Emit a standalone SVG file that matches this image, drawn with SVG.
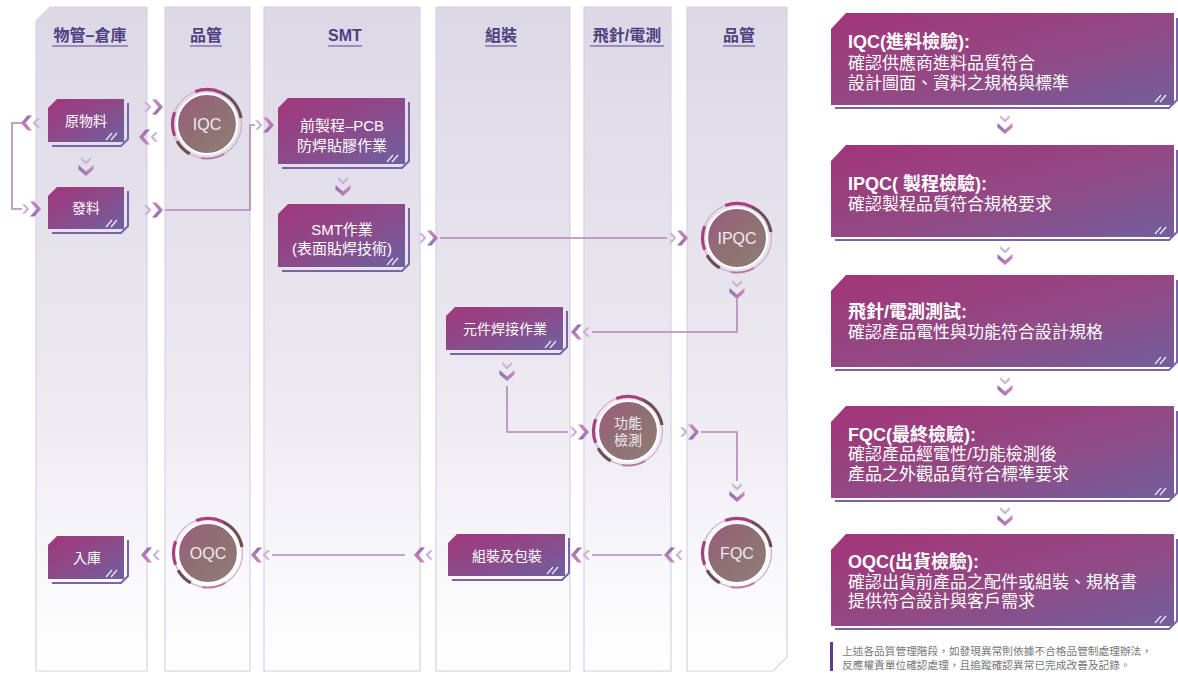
<svg xmlns="http://www.w3.org/2000/svg" xmlns:xlink="http://www.w3.org/1999/xlink" width="1178" height="673" viewBox="0 0 1178 673">
<defs>
<linearGradient id="gLane" gradientUnits="userSpaceOnUse" x1="0" y1="7" x2="0" y2="671">
<stop offset="0" stop-color="#dcd8e6"/><stop offset="0.55" stop-color="#ebe8f0"/><stop offset="1" stop-color="#ffffff"/>
</linearGradient>
<linearGradient id="gBox" x1="0" y1="0" x2="1" y2="1">
<stop offset="0" stop-color="#a2377c"/><stop offset="0.5" stop-color="#8c4a8a"/><stop offset="1" stop-color="#6e61a0"/>
</linearGradient>
<linearGradient id="gPanel" x1="0" y1="0" x2="1" y2="1">
<stop offset="0" stop-color="#a2347a"/><stop offset="0.55" stop-color="#924a84"/><stop offset="1" stop-color="#725e9c"/>
</linearGradient>
<linearGradient id="gCirc" x1="0" y1="0" x2="1" y2="1">
<stop offset="0" stop-color="#9c5a80"/><stop offset="0.5" stop-color="#8f7073"/><stop offset="1" stop-color="#8e7e77"/>
</linearGradient>
<linearGradient id="gChev" x1="0" y1="0" x2="0" y2="1">
<stop offset="0" stop-color="#d088b8"/><stop offset="1" stop-color="#8f6fb2"/>
</linearGradient>
<g id="chev">
<polygon points="-9,-4.8 -6,-4.8 -1.5,0 -6,4.8 -9,4.8 -4.5,0" fill="#cbb3d6"/>
<polygon points="-1,-7.5 3.5,-7.5 10,0 3.5,7.5 -1,7.5 5.5,0" fill="url(#gChev)"/>
</g>
<g id="ring">
<circle r="34.5" fill="none" stroke="#cfa9c8" stroke-width="1.2"/>
<circle r="30" fill="url(#gCirc)" stroke="#ffffff" stroke-width="2.2"/>
<g fill="none" stroke-width="3.2">
<path d="M -11.8,-32.4 A 34.5 34.5 0 0 1 14.6,-31.3" stroke="#a8407f"/>
<path d="M 14.6,-31.3 A 34.5 34.5 0 0 1 34,-6" stroke="#6f4b55"/>
<path d="M -32.4,11.8 A 34.5 34.5 0 0 1 -32.4,-11.8" stroke="#a8407f"/>
<path d="M -17.25,29.9 A 34.5 34.5 0 0 1 -29.9,17.25" stroke="#6f4b55"/>
<path d="M 17.25,29.9 A 34.5 34.5 0 0 1 -6,34" stroke="#b97aa8" stroke-width="2"/>
</g>
</g>
<path id="hatch" d="M0,0 l6,-7 M5,0 l6,-7" fill="none" stroke="#efe3f0" stroke-width="1.3"/>
</defs>
<style>
.lane{fill:url(#gLane);stroke:#d9d3e4;stroke-width:1.2}
.hdr{font-family:"Liberation Sans","Noto Sans CJK TC",sans-serif;font-size:16px;font-weight:bold;fill:#4e3f7f;text-anchor:middle}
.ul{stroke:#8b6fb0;stroke-width:1.5}
.box{fill:url(#gBox)}
.pbox{fill:url(#gPanel)}
.edge{fill:none;stroke:#7c62a8;stroke-width:2}
.bt{font-family:"Liberation Sans","Noto Sans CJK TC",sans-serif;font-size:14px;fill:#ffffff;text-anchor:middle}
.bt2{font-family:"Liberation Sans","Noto Sans CJK TC",sans-serif;font-size:15px;fill:#ffffff;text-anchor:middle}
.ct{font-family:"Liberation Sans","Noto Sans CJK TC",sans-serif;font-size:16px;fill:#f3eaef;text-anchor:middle}
.ct2{font-family:"Liberation Sans","Noto Sans CJK TC",sans-serif;font-size:14px;fill:#f3eaef;text-anchor:middle}
.pt{font-family:"Liberation Sans","Noto Sans CJK TC",sans-serif;font-size:18px;font-weight:bold;fill:#ffffff}
.pb{font-family:"Liberation Sans","Noto Sans CJK TC",sans-serif;font-size:17px;fill:#ffffff}
.note{font-family:"Liberation Sans","Noto Sans CJK TC",sans-serif;font-size:10.7px;fill:#777777}
.conn{fill:none;stroke:#b585b6;stroke-width:1.6}
</style>
<rect width="1178" height="673" fill="#ffffff"/>

<g id="lanes">
<g id="lane-warehouse"><path class="lane" d="M36,21 L50,7 H147 V671 H36 Z"/><text class="hdr" x="90" y="41">物管–倉庫</text><line class="ul" x1="52" y1="46" x2="128" y2="46"/></g>
<g id="lane-qc1"><rect class="lane" x="165" y="7" width="85" height="664"/><text class="hdr" x="206" y="41">品管</text><line class="ul" x1="190" y1="46" x2="222" y2="46"/></g>
<g id="lane-smt"><rect class="lane" x="264" y="7" width="156" height="664"/><text class="hdr" x="345" y="41">SMT</text><line class="ul" x1="328" y1="46" x2="362" y2="46"/></g>
<g id="lane-assembly"><rect class="lane" x="436" y="7" width="134" height="664"/><text class="hdr" x="501" y="41">組裝</text><line class="ul" x1="485" y1="46" x2="517" y2="46"/></g>
<g id="lane-test"><rect class="lane" x="584" y="7" width="87" height="664"/><text class="hdr" x="627" y="41">飛針/電測</text><line class="ul" x1="590" y1="46" x2="664" y2="46"/></g>
<g id="lane-qc2"><path class="lane" d="M687,7 H787 V657 L773,671 H687 Z"/><text class="hdr" x="739" y="41">品管</text><line class="ul" x1="723" y1="46" x2="755" y2="46"/></g>
</g>

<g id="connectors">
<path class="conn" d="M22,123 H12 V209 H22"/>
<path class="conn" d="M165,210 H250 V125 H255"/>
<path class="conn" d="M440,238 H667"/>
<path class="conn" d="M737,299 V332 H592"/>
<path class="conn" d="M507,386 V432 H568"/>
<path class="conn" d="M701,432 H737 V481"/>
<path class="conn" d="M662,555 H592"/>
<path class="conn" d="M405,555 H272"/>
<use href="#chev" transform="translate(31,123) rotate(180)"/>
<use href="#chev" transform="translate(31,209)"/>
<use href="#chev" transform="translate(153,107)"/>
<use href="#chev" transform="translate(149,137) rotate(180)"/>
<use href="#chev" transform="translate(153,210)"/>
<use href="#chev" transform="translate(264,125)"/>
<use href="#chev" transform="translate(86,166) rotate(90)"/>
<use href="#chev" transform="translate(343,186) rotate(90)"/>
<use href="#chev" transform="translate(428,238)"/>
<use href="#chev" transform="translate(678,238)"/>
<use href="#chev" transform="translate(737,289) rotate(90)"/>
<use href="#chev" transform="translate(581,332) rotate(180)"/>
<use href="#chev" transform="translate(507,371) rotate(90)"/>
<use href="#chev" transform="translate(579,432)"/>
<use href="#chev" transform="translate(689,432)"/>
<use href="#chev" transform="translate(737,492) rotate(90)"/>
<use href="#chev" transform="translate(674,555) rotate(180)"/>
<use href="#chev" transform="translate(581,555) rotate(180)"/>
<use href="#chev" transform="translate(424,555) rotate(180)"/>
<use href="#chev" transform="translate(261,555) rotate(180)"/>
<use href="#chev" transform="translate(151,555) rotate(180)"/>
<use href="#chev" transform="translate(1005,124) rotate(90)"/>
<use href="#chev" transform="translate(1005,255) rotate(90)"/>
<use href="#chev" transform="translate(1005,386) rotate(90)"/>
<use href="#chev" transform="translate(1005,516) rotate(90)"/>
</g>

<g id="n-raw">
<path class="box" d="M48,108 L57,99 H124 V142 H48 Z"/>
<path class="edge" d="M52,146 H121 L128,139 V103"/>
<use href="#hatch" x="106" y="140"/>
<text class="bt" x="86" y="126">原物料</text>
</g>
<g id="n-issue">
<path class="box" d="M48,196 L57,187 H124 V229 H48 Z"/>
<path class="edge" d="M52,233 H121 L128,226 V191"/>
<use href="#hatch" x="106" y="227"/>
<text class="bt" x="86" y="213">發料</text>
</g>
<g id="n-iqc">
<use href="#ring" transform="translate(207,124)"/>
<text class="ct" x="207" y="130">IQC</text>
</g>
<g id="n-pre">
<path class="box" d="M278,108 L288,98 H405 V164 H278 Z"/>
<path class="edge" d="M282,168 H402 L409,161 V102"/>
<use href="#hatch" x="387" y="162"/>
<text class="bt2" x="342" y="131">前製程–PCB</text>
<text class="bt2" x="342" y="151">防焊貼膠作業</text>
</g>
<g id="n-smt">
<path class="box" d="M278,214 L288,204 H405 V267 H278 Z"/>
<path class="edge" d="M282,271 H402 L409,264 V208"/>
<use href="#hatch" x="387" y="265"/>
<text class="bt2" x="342" y="235">SMT作業</text>
<text class="bt2" x="342" y="254">(表面貼焊技術)</text>
</g>
<g id="n-ipqc">
<use href="#ring" transform="translate(737,238)"/>
<text class="ct" x="737" y="244">IPQC</text>
</g>
<g id="n-solder">
<path class="box" d="M446,316 L455,307 H563 V350 H446 Z"/>
<path class="edge" d="M450,354 H560 L567,347 V311"/>
<use href="#hatch" x="545" y="348"/>
<text class="bt" x="505" y="334">元件焊接作業</text>
</g>
<g id="n-func">
<use href="#ring" transform="translate(628,431)"/>
<text class="ct2" x="628" y="428">功能</text>
<text class="ct2" x="628" y="445">檢測</text>
</g>
<g id="n-fqc">
<use href="#ring" transform="translate(737,553)"/>
<text class="ct" x="737" y="559">FQC</text>
</g>
<g id="n-pack">
<path class="box" d="M448,543 L457,534 H565 V576 H448 Z"/>
<path class="edge" d="M452,580 H562 L569,573 V538"/>
<use href="#hatch" x="547" y="574"/>
<text class="bt" x="507" y="561">組裝及包裝</text>
</g>
<g id="n-oqc">
<use href="#ring" transform="translate(208,553)"/>
<text class="ct" x="208" y="559">OQC</text>
</g>
<g id="n-store">
<path class="box" d="M48,545 L57,536 H124 V579 H48 Z"/>
<path class="edge" d="M52,583 H121 L128,576 V540"/>
<use href="#hatch" x="106" y="577"/>
<text class="bt" x="87" y="563">入庫</text>
</g>

<g id="p-iqc">
<path class="pbox" d="M831,29 L846,13 H1174 V105 H831 Z"/>
<path class="edge" d="M835,108 H1169 L1177,100 V18"/>
<use href="#hatch" x="1155" y="102"/>
<text class="pt" x="848" y="48">IQC(進料檢驗):</text>
<text class="pb" x="848" y="69">確認供應商進料品質符合</text>
<text class="pb" x="848" y="89">設計圖面、資料之規格與標準</text>
</g>
<g id="p-ipqc">
<path class="pbox" d="M831,161 L846,145 H1174 V237 H831 Z"/>
<path class="edge" d="M835,240 H1169 L1177,232 V150"/>
<use href="#hatch" x="1155" y="234"/>
<text class="pt" x="848" y="190">IPQC( 製程檢驗):</text>
<text class="pb" x="848" y="210">確認製程品質符合規格要求</text>
</g>
<g id="p-test">
<path class="pbox" d="M831,291 L846,275 H1174 V367 H831 Z"/>
<path class="edge" d="M835,370 H1169 L1177,362 V280"/>
<use href="#hatch" x="1155" y="364"/>
<text class="pt" x="848" y="318">飛針/電測測試:</text>
<text class="pb" x="848" y="338">確認產品電性與功能符合設計規格</text>
</g>
<g id="p-fqc">
<path class="pbox" d="M831,422 L846,406 H1174 V498 H831 Z"/>
<path class="edge" d="M835,501 H1169 L1177,493 V411"/>
<use href="#hatch" x="1155" y="495"/>
<text class="pt" x="848" y="441">FQC(最終檢驗):</text>
<text class="pb" x="848" y="460">確認產品經電性/功能檢測後</text>
<text class="pb" x="848" y="480">產品之外觀品質符合標準要求</text>
</g>
<g id="p-oqc">
<path class="pbox" d="M831,550 L846,534 H1174 V626 H831 Z"/>
<path class="edge" d="M835,629 H1169 L1177,621 V539"/>
<use href="#hatch" x="1155" y="623"/>
<text class="pt" x="848" y="568">OQC(出貨檢驗):</text>
<text class="pb" x="848" y="588">確認出貨前產品之配件或組裝、規格書</text>
<text class="pb" x="848" y="607">提供符合設計與客戶需求</text>
</g>

<g id="footnote">
<rect x="830" y="642" width="3" height="29" fill="#5b3f8c"/>
<text class="note" x="842" y="655">上述各品質管理階段，如發現異常則依據不合格品管制處理辦法，</text>
<text class="note" x="842" y="669">反應權責單位確認處理，且追蹤確認異常已完成改善及記錄。</text>
</g>
</svg>
